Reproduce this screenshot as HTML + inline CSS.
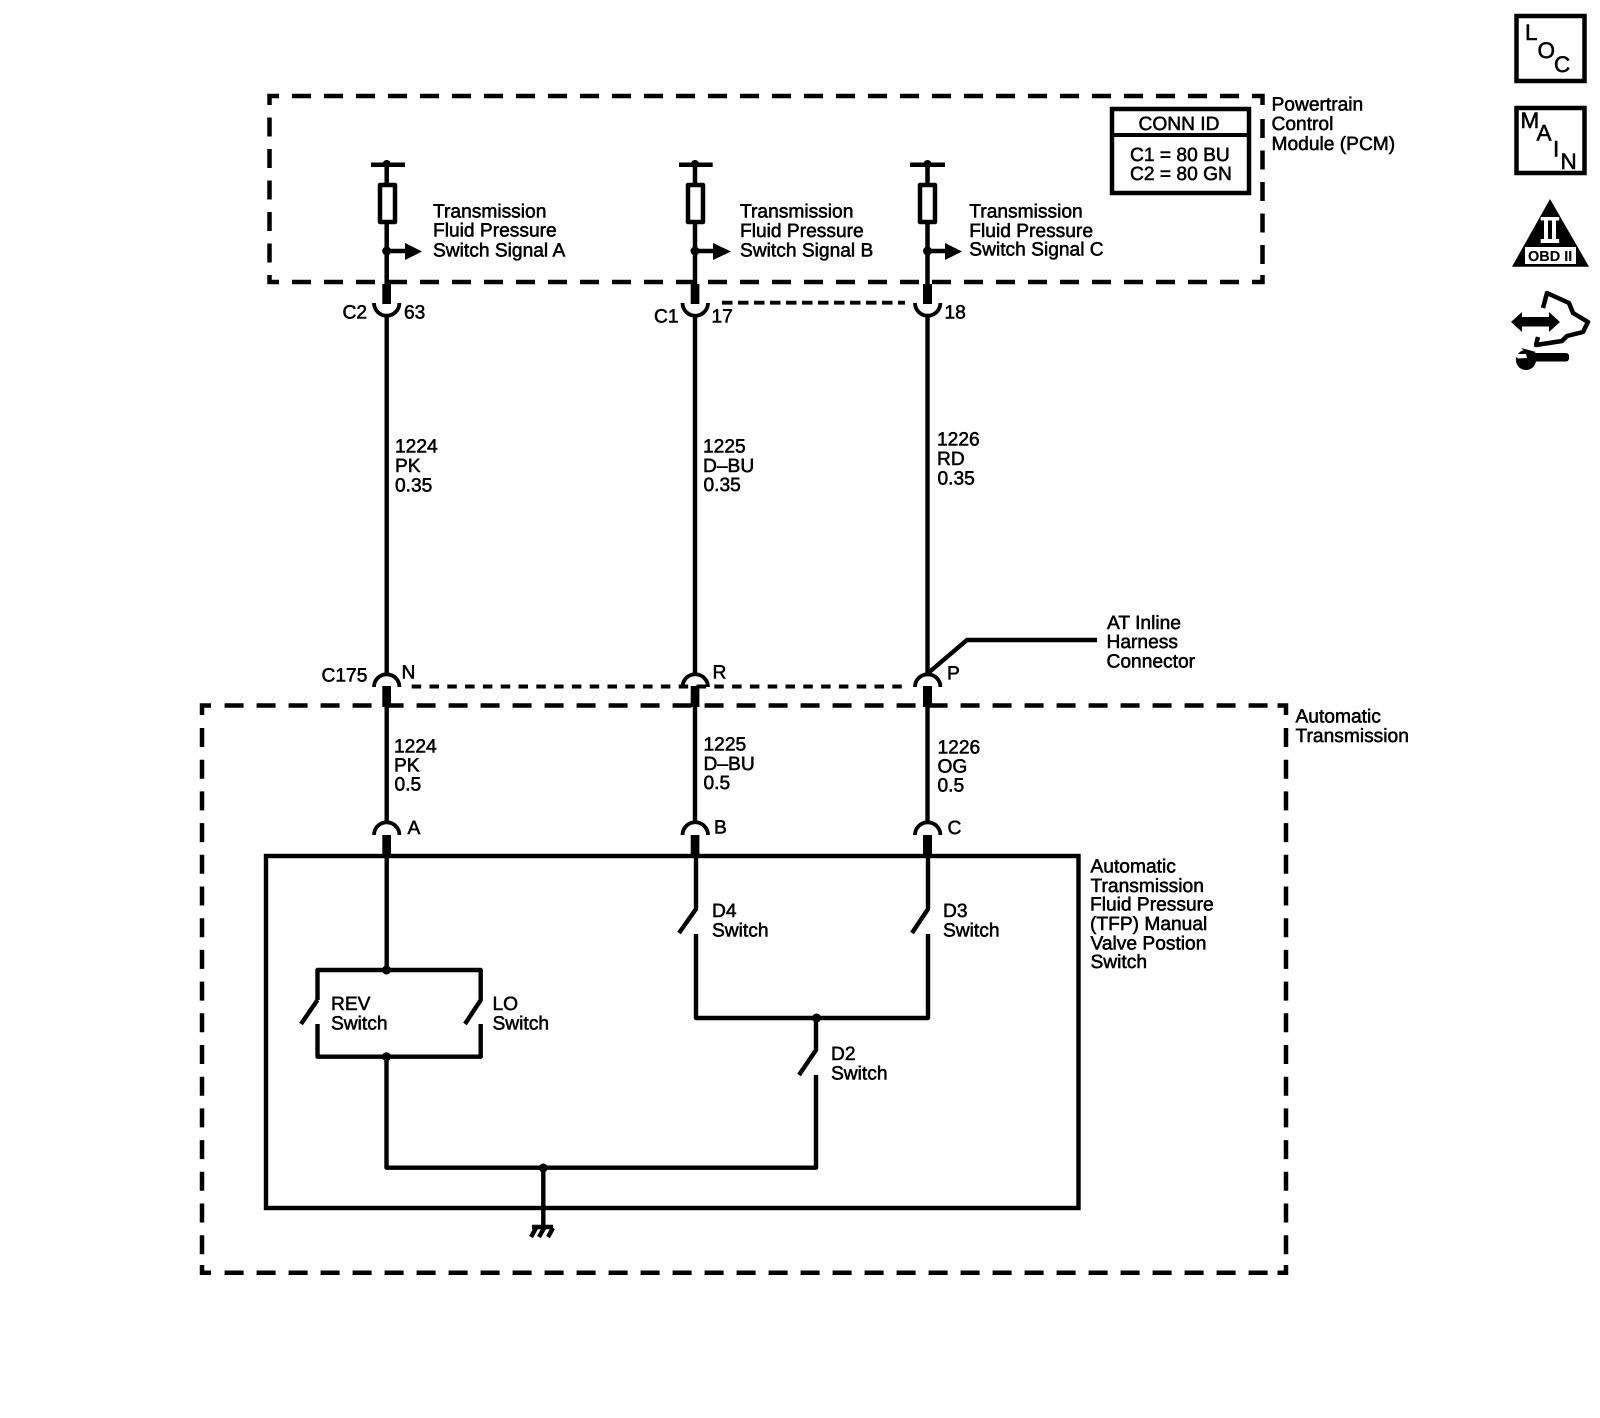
<!DOCTYPE html>
<html><head><meta charset="utf-8"><style>
html,body{margin:0;padding:0;background:#fff}
svg{display:block}
text{font-family:"Liberation Sans",Arial,sans-serif;font-size:19.2px;fill:#000;stroke:#000;stroke-width:.55px;text-rendering:geometricPrecision}
.w{fill:none;stroke:#000;stroke-width:4.5;stroke-linejoin:round}
</style></head><body>
<svg width="1600" height="1418" viewBox="0 0 1600 1418" xmlns="http://www.w3.org/2000/svg">
<rect width="1600" height="1418" fill="#fff"/>

<!-- PCM dashed box -->
<g fill="none" stroke="#000" stroke-width="4.5">
<path d="M279 96H269.5V105M269.5 275V282H279M1252 96H1262.5V105M1262.5 275V282H1252"/>
<path d="M292 96H1252M292 282H1252" stroke-dasharray="19 13"/>
<path d="M269.5 117.5V265M1262.5 119V265" stroke-dasharray="19 12.5"/>
<!-- Auto box -->
<path d="M211 705.5H202V715M1277.5 705.5H1286V715M211 1272.7H202V1265M1277.5 1272.7H1286V1265"/>
<path d="M224.6 705.5H1270M224.6 1272.7H1270" stroke-dasharray="19 13"/>
<path d="M202 728V1255M1286 728V1255" stroke-dasharray="19 12.7"/>
</g>

<!-- CONN ID -->
<rect x="1112" y="109" width="137" height="84" fill="none" stroke="#000" stroke-width="4.5"/>
<path d="M1112 135H1249" stroke="#000" stroke-width="4"/>
<text x="1179" y="130" text-anchor="middle">CONN ID</text>
<text x="1130" y="161">C1 = 80 BU</text>
<text x="1130" y="180">C2 = 80 GN</text>

<text x="1271.5" y="110.7">Powertrain</text>
<text x="1271.5" y="130">Control</text>
<text x="1271.5" y="150">Module (PCM)</text>

<!-- PCM terminals -->
<g class="w">
<path class="w" d="M371 164.7H405M386.7 164.7V183M386.7 223V284"/>
<rect class="w" x="380" y="185" width="15" height="37"/>
<path class="w" d="M679 164.7H712.7M695 164.7V183M695 223V284"/>
<rect class="w" x="688" y="185" width="15" height="37"/>
<path class="w" d="M910 164.7H945M927.5 164.7V183M927.5 223V284"/>
<rect class="w" x="920" y="185" width="15" height="37"/>
<path class="w" d="M386.7 251H406M695 251H714M927.5 251H946"/>
</g>
<g fill="#000">
<circle cx="386.7" cy="164" r="4"/><circle cx="695" cy="164" r="4"/><circle cx="927.5" cy="164" r="4"/>
<circle cx="386.7" cy="251" r="4.5"/><circle cx="695" cy="251" r="4.5"/><circle cx="927.5" cy="251" r="4.5"/>
<path d="M405 243L422 251.5L405 260Z"/><path d="M713 243L731 251.5L713 260Z"/><path d="M945 243L962 251.5L945 260Z"/>
<rect x="382.3" y="284" width="8.7" height="20"/><rect x="690.7" y="284" width="8.7" height="20"/><rect x="923" y="284" width="9" height="20"/>
<rect x="382.3" y="686" width="8.7" height="21"/><rect x="690.7" y="686" width="8.7" height="21"/><rect x="923" y="686" width="9" height="21"/>
<rect x="382.3" y="835" width="8.7" height="22"/><rect x="690.7" y="835" width="8.7" height="22"/><rect x="923" y="835" width="9" height="22"/>
</g>

<!-- Cups -->
<g fill="none" stroke="#000" stroke-width="3.8">
<path d="M374 303A12.7 12.7 0 0 0 399.4 303"/>
<path d="M682.5 303A12.7 12.7 0 0 0 708 303"/>
<path d="M915 303A12.7 12.7 0 0 0 940.4 303"/>
<path d="M374 687A12.7 12.7 0 0 1 399.4 687"/>
<path d="M682.5 687A12.7 12.7 0 0 1 708 687"/>
<path d="M915 687A12.7 12.7 0 0 1 940.4 687"/>
<path d="M374 835A12.7 12.7 0 0 1 399.4 835"/>
<path d="M682.5 835A12.7 12.7 0 0 1 708 835"/>
<path d="M915 835A12.7 12.7 0 0 1 940.4 835"/>
</g>

<!-- Wires -->
<g fill="none" stroke="#000" stroke-width="4.4">
<path d="M386.7 316V674M695 316V674M927.5 316V674"/>
<path d="M386.7 706V822M695 706V822M927.5 706V822"/>
<path d="M927 674L967 640H1097"/>
</g>
<path d="M722 302.7H905" fill="none" stroke="#000" stroke-width="3.8" stroke-dasharray="10.5 5.5"/>
<path d="M411.7 686.5H905" fill="none" stroke="#000" stroke-width="4" stroke-dasharray="9.5 8.3"/>

<!-- Module -->
<rect x="266" y="856" width="812.5" height="352" fill="none" stroke="#000" stroke-width="4.4"/>
<g fill="none" stroke="#000" stroke-width="4.4" stroke-linejoin="round">
<path d="M386.7 857V970"/>
<path d="M317.5 1000V970H480.7V1000L465 1024"/>
<path d="M317.5 1000L301 1024"/>
<path d="M317.5 1024V1056.7H480.7V1024"/>
<path d="M386.5 1056.7V1167.7H816V1075"/>
<path d="M696 857V909L679 933"/>
<path d="M928 857V909L912 933"/>
<path d="M696 934V1018H928V934"/>
<path d="M816 1018V1050L799 1075"/>
<path d="M543.3 1167.7V1227"/>
<path d="M532 1227H553M536 1228L531 1237M544 1228L539 1237M553 1228L548 1237"/>
</g>
<g fill="#000">
<circle cx="386.5" cy="970" r="4.5"/><circle cx="386.5" cy="1056.7" r="4.5"/>
<circle cx="816.5" cy="1018" r="4.5"/><circle cx="543.3" cy="1168" r="4.5"/>
</g>

<!-- Labels -->
<text x="433" y="217.3">Transmission</text><text x="433" y="236.7">Fluid Pressure</text><text x="433" y="256.3">Switch Signal A</text>
<text x="740" y="217.5">Transmission</text><text x="740" y="237">Fluid Pressure</text><text x="740" y="256.3">Switch Signal B</text>
<text x="969.3" y="217.5">Transmission</text><text x="969.3" y="237">Fluid Pressure</text><text x="969.3" y="255.5">Switch Signal C</text>

<text x="342.5" y="318.3">C2</text><text x="404" y="318.3">63</text>
<text x="654" y="322.3">C1</text><text x="711.5" y="322.3">17</text>
<text x="944.5" y="318.7">18</text>

<text x="395" y="452.5">1224</text><text x="395" y="472">PK</text><text x="395" y="491.5">0.35</text>
<text x="703" y="452.5">1225</text><text x="703" y="472">D–BU</text><text x="703.5" y="491">0.35</text>
<text x="937" y="445.5">1226</text><text x="937" y="465">RD</text><text x="937.5" y="484.5">0.35</text>

<text x="321.5" y="681.5">C175</text><text x="401.5" y="678.5">N</text><text x="712.5" y="678.5">R</text><text x="947" y="679.5">P</text>
<text x="1107" y="629">AT Inline</text><text x="1106.5" y="648">Harness</text><text x="1106.5" y="667.5">Connector</text>
<text x="1295.5" y="722.7">Automatic</text><text x="1295.5" y="742.2">Transmission</text>

<text x="394" y="752.7">1224</text><text x="394" y="771.5">PK</text><text x="394.5" y="790.7">0.5</text>
<text x="703.5" y="750.7">1225</text><text x="703.5" y="770">D–BU</text><text x="703.5" y="789">0.5</text>
<text x="937.5" y="753.3">1226</text><text x="937.5" y="772.7">OG</text><text x="937.5" y="791.7">0.5</text>

<text x="407.5" y="834">A</text><text x="714" y="833.5">B</text><text x="947.5" y="834">C</text>

<text x="1090.5" y="872.7">Automatic</text><text x="1090.5" y="892">Transmission</text><text x="1090" y="910.7">Fluid Pressure</text><text x="1090" y="930">(TFP) Manual</text><text x="1090.5" y="949.3">Valve Postion</text><text x="1090.5" y="968">Switch</text>

<text x="712" y="917">D4</text><text x="712" y="936.7">Switch</text>
<text x="943" y="917">D3</text><text x="943" y="936.7">Switch</text>
<text x="831" y="1060">D2</text><text x="831" y="1079.5">Switch</text>
<text x="331" y="1010">REV</text><text x="331" y="1029.5">Switch</text>
<text x="492.5" y="1010">LO</text><text x="492.5" y="1029.5">Switch</text>

<!-- Side icons -->
<rect x="1516.5" y="16" width="68" height="65" fill="none" stroke="#000" stroke-width="4.5"/>
<text x="1525" y="40" style="font-size:22.5px">L</text>
<text x="1537.5" y="58" style="font-size:22.5px">O</text>
<text x="1554" y="72" style="font-size:22.5px">C</text>
<rect x="1516.5" y="108" width="68" height="65" fill="none" stroke="#000" stroke-width="4.5"/>
<text x="1520.5" y="128" style="font-size:22.5px">M</text>
<text x="1536.5" y="140.7" style="font-size:22.5px">A</text>
<text x="1553" y="156.7" style="font-size:22.5px">I</text>
<text x="1560.5" y="169" style="font-size:22.5px">N</text>

<path d="M1550 199L1512 266.7H1589Z" fill="#000"/>
<rect x="1540.7" y="217" width="18.5" height="3.5" fill="#fff"/>
<rect x="1540.7" y="239" width="18.5" height="4" fill="#fff"/>
<rect x="1544" y="220" width="4" height="19" fill="#fff"/>
<rect x="1552" y="220" width="4" height="19" fill="#fff"/>
<rect x="1525" y="247" width="51" height="17" fill="#fff"/>
<text x="1528" y="261" style="font-size:14.5px;font-weight:bold;stroke-width:.1px">OBD II</text>

<path d="M1511 322L1522 312V317H1549V312L1560 322L1549 332V326.5H1522V332Z" fill="#000"/>
<path d="M1543 308L1547 293L1569 303L1573 313L1588 322L1583 332L1567 336L1562 341L1536 345L1538 337" fill="none" stroke="#000" stroke-width="4.5" stroke-linejoin="round"/>
<rect x="1528" y="353" width="41" height="8.5" rx="3" fill="#000"/>
<circle cx="1526" cy="360" r="10" fill="#000"/>
<path d="M1521 348L1536 352L1530 356Z" fill="#000"/>
<path d="M1514 354H1526L1527 358L1518 358.5Z" fill="#fff"/>
</svg>
</body></html>
